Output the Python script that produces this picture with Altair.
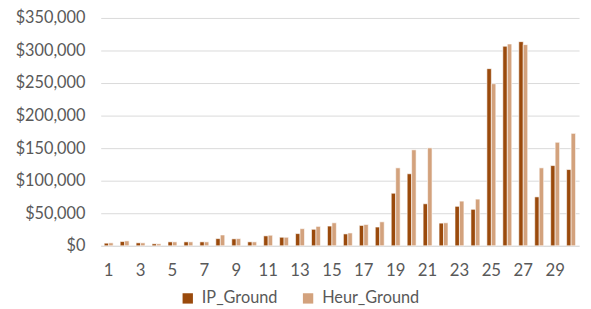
import altair as alt
import pandas as pd

categories = list(range(1, 31))
ip_ground = [4000, 6500, 4500, 3000, 6000, 6000, 6000, 11000, 10600, 6000,
             15200, 13100, 18700, 25300, 30300, 18200, 31200, 28800, 80700, 110600,
             64500, 34800, 60600, 56000, 272100, 306500, 313600, 75100, 123200, 117100]
heur_ground = [4500, 7500, 4500, 3000, 6000, 6000, 6000, 16600, 11000, 6000,
               16200, 13100, 26300, 29800, 35300, 19700, 32700, 36800, 119700, 147400,
               150400, 35300, 68600, 71700, 248900, 310000, 309000, 119700, 159000, 172700]
series = ["IP_Ground", "Heur_Ground"]
colors = ["#9A4A0C", "#D3A27D"]
y_ticks = [0, 50000, 100000, 150000, 200000, 250000, 300000, 350000]
x_labels = [c for c in categories if c % 2 == 1]

rows = []
for c, a, b in zip(categories, ip_ground, heur_ground):
    rows.append({"cat": c, "series": series[0], "value": a})
    rows.append({"cat": c, "series": series[1], "value": b})
df = pd.DataFrame(rows)

FONT = "Lato"
GREY = "#595959"

chart = alt.Chart(df).mark_bar(stroke="white", strokeWidth=0.6).encode(
    x=alt.X("cat:O", sort=categories,
            scale=alt.Scale(paddingInner=0.44, paddingOuter=0.22),
            axis=alt.Axis(title=None, values=x_labels, labelAngle=0, ticks=False,
                          domain=True, domainColor="#D9D9D9", labelFont=FONT,
                          labelFontSize=17, labelColor=GREY, labelPadding=17, grid=False)),
    xOffset=alt.XOffset("series:N", sort=series, scale=alt.Scale(paddingInner=0, paddingOuter=0)),
    y=alt.Y("value:Q", scale=alt.Scale(domain=[0, 350000], nice=False),
            axis=alt.Axis(title=None, values=y_ticks, format="$,.0f", ticks=False,
                          domain=False, grid=True, gridColor="#D9D9D9", gridWidth=1,
                          labelFont=FONT, labelFontSize=16.5, labelColor=GREY, labelPadding=16)),
    color=alt.Color("series:N", sort=series,
                    scale=alt.Scale(domain=series, range=colors),
                    legend=alt.Legend(title=None, orient="none", direction="horizontal",
                                      legendX=80, legendY=276, symbolType="square",
                                      symbolSize=110, symbolStrokeWidth=0,
                                      labelFont=FONT, labelFontSize=16.5, labelColor=GREY,
                                      columnPadding=22, labelOffset=6)),
).properties(
    width=485, height=231,
    autosize=alt.AutoSizeParams(type="none"),
    padding={"left": 94, "top": 8, "right": 4, "bottom": 61},
).configure_view(stroke=None)

chart.save("out.html", embed_options={"renderer": "svg", "actions": False})
